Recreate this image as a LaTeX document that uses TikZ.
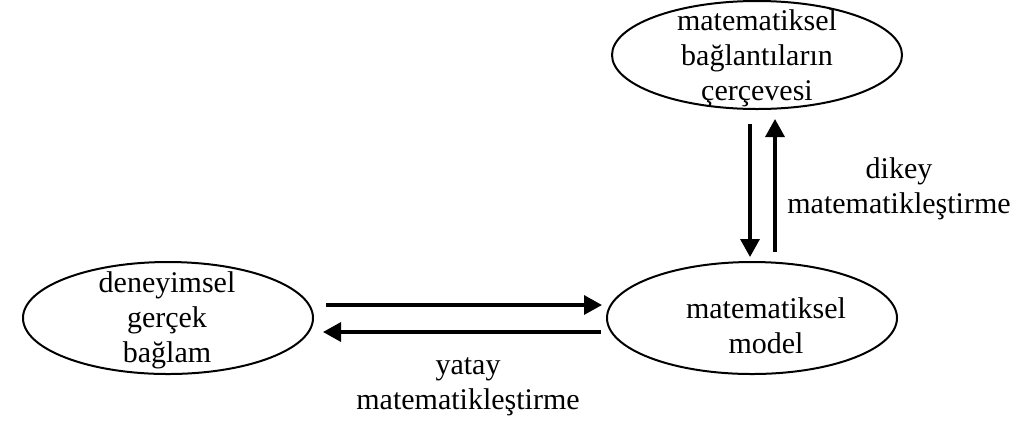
\documentclass[tikz,border=0pt]{standalone}
\usepackage{fontspec}
\setmainfont{Liberation Serif}
\usetikzlibrary{arrows.meta,shapes.geometric}

\begin{document}
\begin{tikzpicture}[x=0.5pt,y=-0.5pt,
        blob/.style={draw,ellipse,line width=1pt,inner sep=0pt,minimum width=145pt,minimum height=56pt},
        words/.style={align=center,inner sep=0pt,font=\fontsize{15}{17.5}\selectfont},
        flow/.style={line width=1.7pt,-{Triangle[length=9pt,width=9.5pt]}}]
    \useasboundingbox (0,0) rectangle (1020,424);

    \node[blob] (baglam) at (168,318) {};
    \node[blob] (model) at (752,318) {};
    \node[blob,minimum height=54pt] (frame) at (757,55) {};

    \node[words] (baglamtext) at (167,320) {deneyimsel\\gerçek\\bağlam};
    \node[words] (modeltext) at (766,326) {matematiksel\\model};
    \node[words] (frametext) at (757,58) {matematiksel\\bağlantıların\\çerçevesi};

    % yatay
    \draw[flow] ([xshift=6pt,yshift=6.5pt]baglam.east) -- ([xshift=-2pt,yshift=6.5pt]model.west);
    \draw[flow] ([xshift=-2.5pt,yshift=-7pt]model.west) -- ([xshift=4.5pt,yshift=-7pt]baglam.east);
    \node[words] (yatay) at (468,387) {yatay\\matematikleştirme};

    % dikey
    \draw[flow] ([xshift=-3.5pt,yshift=-7pt]frame.south) -- ([xshift=-1pt,yshift=2pt]model.north);
    \draw[flow] ([xshift=11.5pt,yshift=4.5pt]model.north) -- ([xshift=9pt,yshift=-4.5pt]frame.south);
    \node[words] (dikey) at (899,189) {dikey\\matematikleştirme};
\end{tikzpicture}
\end{document}
